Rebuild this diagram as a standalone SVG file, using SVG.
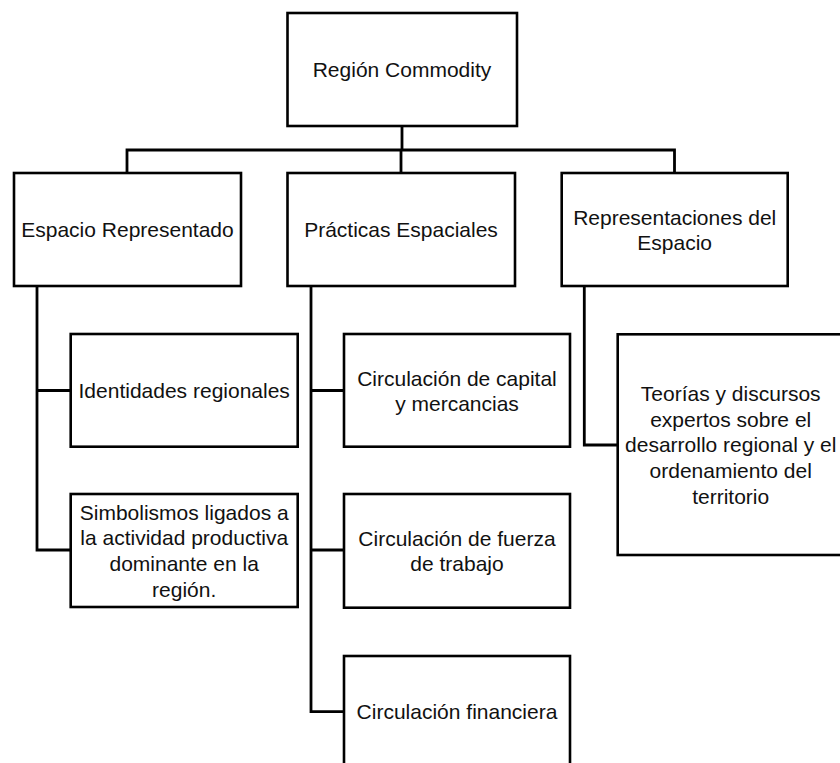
<svg xmlns="http://www.w3.org/2000/svg" width="840" height="763" viewBox="0 0 840 763">
<style>
.box{fill:#fff;stroke:#000;stroke-width:2.6}
.t{font-family:"Liberation Sans",Arial,sans-serif;font-size:21px;fill:#111;text-anchor:middle}
.c{fill:none;stroke:#000;stroke-width:2.8;stroke-linecap:square}
</style>
<rect width="840" height="763" fill="#fff"/>
<g id="connectors">
<path class="c" d="M402 126V150M127 150H674.5M127 150V173M401 150V173M674.5 150V173"/>
<path class="c" d="M37 286V550M37 390.5H70.7M37 550H70.7"/>
<path class="c" d="M311 286V711.7M311 390.5H344M311 550H344M311 711.7H344"/>
<path class="c" d="M584.3 286V445H617.7"/>
</g>
<g id="n-region"><rect class="box" x="287.5" y="13" width="229.5" height="113"/><text class="t" x="402" y="77">Región Commodity</text></g>
<g id="n-espacio"><rect class="box" x="14" y="173" width="227" height="113"/><text class="t" x="127.5" y="237">Espacio Representado</text></g>
<g id="n-practicas"><rect class="box" x="287.5" y="173" width="227.5" height="113"/><text class="t" x="401" y="237">Prácticas Espaciales</text></g>
<g id="n-representaciones"><rect class="box" x="561.7" y="173" width="226" height="113"/><text class="t" x="674.7" y="224.5">Representaciones del</text><text class="t" x="674.7" y="250">Espacio</text></g>
<g id="n-identidades"><rect class="box" x="70.7" y="334" width="227" height="112.7"/><text class="t" x="184.2" y="398">Identidades regionales</text></g>
<g id="n-simbolismos"><rect class="box" x="70.7" y="494" width="227" height="113"/><text class="t" x="184.2" y="519.5">Simbolismos ligados a</text><text class="t" x="184.2" y="545.2">la actividad productiva</text><text class="t" x="184.2" y="570.9">dominante en la</text><text class="t" x="184.2" y="596.6">región.</text></g>
<g id="n-capital"><rect class="box" x="344" y="334" width="226" height="112.7"/><text class="t" x="457" y="385.5">Circulación de capital</text><text class="t" x="457" y="411">y mercancias</text></g>
<g id="n-fuerza"><rect class="box" x="344" y="494" width="226" height="113.7"/><text class="t" x="457" y="545.5">Circulación de fuerza</text><text class="t" x="457" y="571.2">de trabajo</text></g>
<g id="n-financiera"><rect class="box" x="344" y="656" width="226" height="113"/><text class="t" x="457" y="719">Circulación financiera</text></g>
<g id="n-teorias"><rect class="box" x="617.7" y="334.3" width="226" height="220.7"/><text class="t" x="730.7" y="400.8">Teorías y discursos</text><text class="t" x="730.7" y="426.5">expertos sobre el</text><text class="t" x="730.7" y="452.2">desarrollo regional y el</text><text class="t" x="730.7" y="477.9">ordenamiento del</text><text class="t" x="730.7" y="503.6">territorio</text></g>
</svg>
